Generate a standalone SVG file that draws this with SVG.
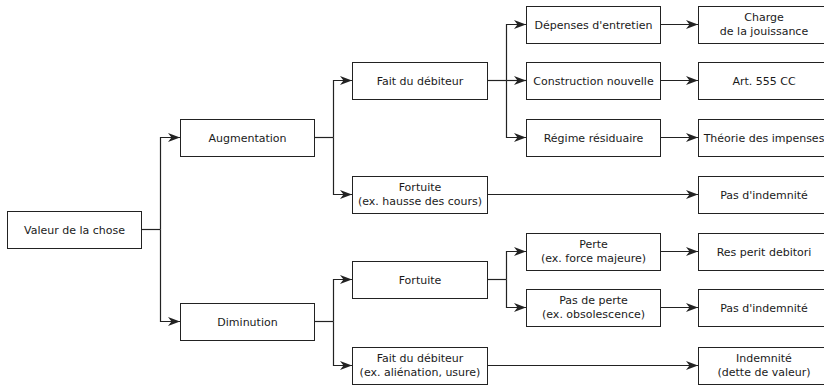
<svg xmlns="http://www.w3.org/2000/svg" width="824" height="385" viewBox="0 0 824 385">
<style>
.box{fill:#fff;stroke:#222;stroke-width:1}
.t{font-family:"DejaVu Sans","Liberation Sans",sans-serif;font-size:11px;fill:#1a1a1a;text-anchor:middle}
.c{fill:none;stroke:#222;stroke-width:1.2;marker-end:url(#ah)}
.cn{fill:none;stroke:#222;stroke-width:1.2}
</style>
<defs>
<marker id="ah" viewBox="-12 -5 12 10" refX="0" refY="0" markerWidth="12" markerHeight="10" orient="auto" markerUnits="userSpaceOnUse">
<path d="M0,0 L-12,-4.5 L-8.5,0 L-12,4.5 Z" fill="#222"/>
</marker>
</defs>
<rect width="824" height="385" fill="#fff"/>
<g id="connectors">
<path class="cn" d="M141.5,229.5 H160.5"/>
<path class="c" d="M160.5,229.5 V137.5 H180"/>
<path class="c" d="M160.5,229.5 V321.5 H180"/>
<path class="cn" d="M314.5,137.5 H333.5"/>
<path class="c" d="M333.5,137.5 V80.5 H352"/>
<path class="c" d="M333.5,137.5 V194.5 H352"/>
<path class="cn" d="M314.5,321.5 H333.5"/>
<path class="c" d="M333.5,321.5 V279.5 H352"/>
<path class="c" d="M333.5,321.5 V365.5 H352"/>
<path class="cn" d="M487.5,80.5 H506.5"/>
<path class="c" d="M506.5,80.5 V24.5 H526"/>
<path class="c" d="M506.5,80.5 H526"/>
<path class="c" d="M506.5,80.5 V137.5 H526"/>
<path class="cn" d="M487.5,279.5 H506.5"/>
<path class="c" d="M506.5,279.5 V251.5 H526"/>
<path class="c" d="M506.5,279.5 V307.5 H526"/>
<path class="c" d="M487.5,194.5 H698"/>
<path class="c" d="M487.5,365.5 H698"/>
<path class="c" d="M660.5,24.5 H698"/>
<path class="c" d="M660.5,80.5 H698"/>
<path class="c" d="M660.5,137.5 H698"/>
<path class="c" d="M660.5,251.5 H698"/>
<path class="c" d="M660.5,307.5 H698"/>
</g>
<g id="n-valeur"><rect class="box" x="7.5" y="211.5" width="134" height="37"/><text class="t" x="74.5" y="233.5">Valeur de la chose</text></g>
<g id="n-augmentation"><rect class="box" x="180.5" y="119.5" width="134" height="37"/><text class="t" x="247.5" y="141.5">Augmentation</text></g>
<g id="n-diminution"><rect class="box" x="180.5" y="303.5" width="134" height="37"/><text class="t" x="247.5" y="325.5">Diminution</text></g>
<g id="n-fait-debiteur"><rect class="box" x="352.5" y="62.5" width="135" height="37"/><text class="t" x="420" y="84.5">Fait du débiteur</text></g>
<g id="n-fortuite-hausse"><rect class="box" x="352.5" y="176.5" width="135" height="37"/><text class="t" x="420" y="191">Fortuite</text><text class="t" x="420" y="204.5">(ex. hausse des cours)</text></g>
<g id="n-fortuite"><rect class="box" x="352.5" y="261.5" width="135" height="37"/><text class="t" x="420" y="283.5">Fortuite</text></g>
<g id="n-fait-alienation"><rect class="box" x="352.5" y="347.5" width="135" height="37"/><text class="t" x="420" y="362">Fait du débiteur</text><text class="t" x="420" y="375.5">(ex. aliénation, usure)</text></g>
<g id="n-depenses"><rect class="box" x="526.5" y="6.5" width="134" height="37"/><text class="t" x="593.5" y="28.5">Dépenses d'entretien</text></g>
<g id="n-construction"><rect class="box" x="526.5" y="62.5" width="134" height="37"/><text class="t" x="593.5" y="84.5">Construction nouvelle</text></g>
<g id="n-regime"><rect class="box" x="526.5" y="119.5" width="134" height="37"/><text class="t" x="593.5" y="141.5">Régime résiduaire</text></g>
<g id="n-perte"><rect class="box" x="526.5" y="233.5" width="134" height="37"/><text class="t" x="593.5" y="248">Perte</text><text class="t" x="593.5" y="261.5">(ex. force majeure)</text></g>
<g id="n-pas-perte"><rect class="box" x="526.5" y="289.5" width="134" height="37"/><text class="t" x="593.5" y="304">Pas de perte</text><text class="t" x="593.5" y="317.5">(ex. obsolescence)</text></g>
<g id="n-charge"><rect class="box" x="698.5" y="6.5" width="134" height="37"/><text class="t" x="764" y="21">Charge</text><text class="t" x="764" y="34.5">de la jouissance</text></g>
<g id="n-art555"><rect class="box" x="698.5" y="62.5" width="134" height="37"/><text class="t" x="764" y="84.5">Art. 555 CC</text></g>
<g id="n-theorie"><rect class="box" x="698.5" y="119.5" width="134" height="37"/><text class="t" x="764" y="141.5">Théorie des impenses</text></g>
<g id="n-pas-indemnite-1"><rect class="box" x="698.5" y="176.5" width="134" height="37"/><text class="t" x="764" y="198.5">Pas d'indemnité</text></g>
<g id="n-res-perit"><rect class="box" x="698.5" y="233.5" width="134" height="37"/><text class="t" x="764" y="255.5">Res perit debitori</text></g>
<g id="n-pas-indemnite-2"><rect class="box" x="698.5" y="289.5" width="134" height="37"/><text class="t" x="764" y="311.5">Pas d'indemnité</text></g>
<g id="n-indemnite"><rect class="box" x="698.5" y="347.5" width="134" height="37"/><text class="t" x="764" y="362">Indemnité</text><text class="t" x="764" y="375.5">(dette de valeur)</text></g>
</svg>
